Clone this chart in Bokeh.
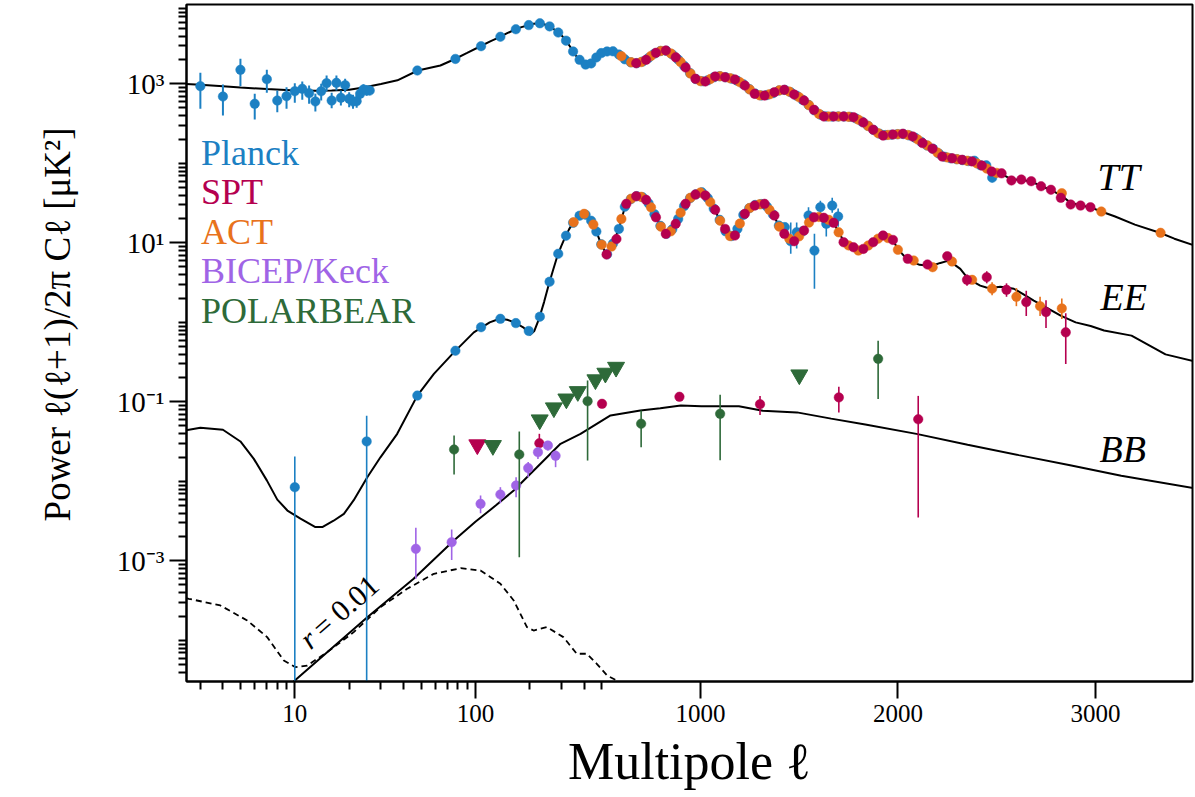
import numpy as np
from bokeh.plotting import figure
from bokeh.models import Range1d, FixedTicker, CustomJSTickFormatter, Label
from bokeh.embed import file_html
from bokeh.resources import INLINE

# ---------------- data ----------------
tt_curve = [(2.5,1000),(3,975),(4,935),(5,900),(7,860),(9.5,830),(13,822),(16,826),(20,845),(24,900),
            (30,1000),(37,1110),(48,1474),(64,1704),(76,2027),(90,2450),(106,2954),(120,3400),(136,3868),
            (150,4350),(166,4832),(180,5180),(196,5471),(210,5700),(226,5800),(240,5620),(256,5318),
            (270,4950),(283,4562),(300,4080),(314,3619),(330,3080),(345,2630),(360,2270),(376,2027),
            (390,1850),(404,1754),(420,1750),(434,1790),(450,1950),(469,2167),(485,2330),(500,2460),
            (536,2577),(561,2560),(599,2230),(625,1980),(646,1875),(675,1821),(700,1880),(725,2009),
            (750,2250),(776,2460),(800,2600),(826,2630),(850,2420),(874,2167),(900,1880),(924,1622),
            (950,1350),(975,1159),(1000,1085),(1026,1072),(1050,1150),(1076,1239),(1100,1250),(1127,1214),
            (1150,1180),(1177,1136),(1200,1050),(1228,955),(1250,850),(1279,751),(1300,718),(1329,714),
            (1350,740),(1380,786),(1400,830),(1425,845),(1450,800),(1473,736),(1500,680),(1523,618),
            (1550,540),(1574,472),(1600,420),(1625,392),(1650,388),(1675,389),(1726,389),(1773,381),
            (1800,355),(1824,327),(1850,295),(1875,265),(1900,240),(1925,226),(1950,228),(1976,231),
            (2027,234),(2077,218),(2100,200),(2128,180),(2150,168),(2178,153),(2200,137),(2229,122),
            (2276,115),(2327,110),(2377,105),(2426,94),(2450,86),(2477,79),(2524,74),(2575,63),(2626,62),
            (2677,59),(2727,51.6),(2778,46),(2829,39),(2875,32),(2926,29.5),(2976,28),(3026,25),
            (3100,21.5),(3200,17),(3326,13.4),(3400,11.3),(3500,9.3)]

ee_curve = [(2.5,0.044),(3,0.0472),(4,0.0446),(5,0.0318),(5.93,0.0192),(7,0.0103),(8,0.0059),(9.1,0.0043),
            (10.75,0.0034),(13,0.00266),(14.2,0.00266),(16.4,0.0032),(18.7,0.0039),(21.2,0.0058),
            (25.2,0.0113),(29.8,0.0201),(36.9,0.0397),(47.7,0.12),(58.9,0.2256),(76,0.42),(98,0.75),
            (120,1.0),(136,1.11),(150,1.08),(166,0.99),(185,0.86),(201,0.70),(212,0.78),(225,1.11),
            (240,1.8),(254,2.91),(268,4.4),(283,6.6),(298,9.0),(314,11.8),(330,14.8),(347,17.9),
            (370,21.5),(396,23.2),(420,21.5),(445,17.7),(470,13.5),(492,10.2),(524,7.15),(553,9.27),
            (587,15.0),(620,29.5),(650,36),(675,38.7),(700,38),(725,34.8),(750,28),(776,21.0),(800,16),
            (827,13.0),(850,14),(874,17.4),(900,24),(924,31),(950,37),(975,40.6),(1009,43.4),(1030,39),
            (1049,32.5),(1075,25),(1098,19.5),(1120,15),(1144,12.4),(1160,12.2),(1177,13.0),(1200,17.5),
            (1220,23.2),(1245,27),(1270,29.5),(1295,30.5),(1321,31),(1345,27),(1371,22.1),(1400,16),
            (1422,13),(1447,11.3),(1473,10.5),(1498,12),(1523,14.3),(1548,18),(1574,21),(1600,21.2),
            (1625,20.7),(1650,19.5),(1675,17.9),(1700,13.6),(1726,10.6),(1752,9.3),(1777,8.83),(1802,8.3),
            (1820,8.6),(1844,9.27),(1878,10.2),(1910,11.5),(1928,11.8),(1960,11.2),(1976,10.5),(1999,8.6),
            (2023,7.2),(2047,6.31),(2080,5.7),(2110,5.3),(2148,5.2),(2176,5.2),(2215,5.6),(2248,5.9),
            (2274,5.6),(2316,4.72),(2346,3.8),(2376,3.3),(2417,2.9),(2448,2.75),(2477,2.72),(2519,2.8),
            (2549,2.75),(2587,2.65),(2630,2.3),(2688,1.88),(2750,1.55),(2824,1.22),(2900,1.0),(2976,0.9),
            (3044,0.79),(3183,0.682),(3355,0.396),(3500,0.325)]

bb_curve = [(8,2.0e-5),(10,3.13e-5),(25.2,1.96e-4),(45.5,5.95e-4),(76,1.81e-3),(100,3.1e-3),(130,5.0e-3),
            (163,7.69e-3),(220,0.0152),(296,0.0297),(382,0.0397),(545,0.0675),(696,0.078),(797,0.0831),
            (901,0.0898),(1005,0.0881),(1195,0.0881),(1316,0.0775),(1489,0.0738),(1662,0.0616),
            (1835,0.0521),(2094,0.0396),(2353,0.0289),(2612,0.0214),(2872,0.016),(3131,0.0118),(3500,0.0082)]

bb_r001_curve = [(2.5,3.4e-4),(2.59,3.34e-4),(3.87,2.75e-4),(5.45,1.78e-4),(7.03,1.1e-4),(8.69,5.59e-5),
                 (10.09,4.6e-5),(11.72,4.83e-5),(15.1,7.11e-5),(21.2,1.27e-4),(29.8,2.62e-4),(41.9,4.46e-4),
                 (58.9,6.89e-4),(82.9,8.1e-4),(106.7,7.57e-4),(137.6,5.15e-4),(163,3.18e-4),(193,1.47e-4),
                 (210,1.33e-4),(249,1.47e-4),(307,1.1e-4),(364,6.79e-5),(414,6.79e-5),(470,5.08e-5),
                 (528,3.61e-5),(578,3.12e-5),(650,2.2e-5)]

# Planck TT, low ell
pl_tt_lo_l = [3,4,5,6,7,8,9,10,11,12,13,14,15,16,17,18,19,20,21,22,23,24,25,26]
pl_tt_lo_v = [936,694,1504,562,1146,618,700,809,868,764,601,809,1020,618,1032,669,963,650,601,606,751,850,826,826]
pl_tt_lo_dn = [486,400,936,357,773,441,486,578,631,562,450,618,809,495,826,535,786,509,486,500,640,730,710,720]
pl_tt_lo_up = [1379,983,2069,751,1504,826,909,1020,1072,955,751,1003,1276,773,1276,826,1159,786,729,725,880,990,960,950]

# Planck TT, binned
pl_tt_l = [47.7,77.5,107.5,137.5,167.5,197.5,227.5,257.5,287.5,317.5,347.5,377.5,407.5,437.5,467.5,497.5,
           527.5,557.5,587.5,617.5,647.5,677.5,707.5,737.5,767.5,797.5,827.5,857.5,887.5,917.5,947.5,977.5,
           1007.5,1037.5,1067.5,1097.5,1127.5,1157.5,1187.5,1217.5,1247.5,1277.5,1307.5,1337.5,1367.5,
           1397.5,1427.5,1457.5,1487.5,1517.5,1547.5,1577.5,1607.5,1637.5,1667.5,1697.5,1727.5,1757.5,
           1787.5,1817.5,1847.5,1877.5,1907.5,1937.5,1967.5,1997.5,2027.5,2057.5,2087.5,2117.5,2147.5,
           2177.5,2207.5,2237.5,2267.5,2297.5,2327.5,2357.5,2387.5,2417.5,2447.5,2477.5]
pl_tt_v = [1474,2060,2980,3920,4870,5490,5790,5290,4430,3500,2560,2010,1750,1810,2150,2440,2560,2570,2340,2040,
           1870,1825,1910,2120,2400,2590,2610,2350,2020,1690,1370,1150,1080,1110,1210,1250,1214,1165,1095,990,
           860,755,716,725,765,825,840,785,710,630,545,465,410,390,388,389,389,385,368,335,
           298,263,236,227,230,233,234,225,210,187,168,153,133,121,116,113,110,107,108,95,94.5,66]
pl_tt_bar_l = [2387.5,2417.5,2447.5,2477.5]
pl_tt_bar_dn = [98,86,85,58]
pl_tt_bar_up = [118,104,104,76]

# SPT TT
spt_tt_l = [675,725,775,825,875,925,975,1025,1075,1125,1175,1225,1275,1325,1375,1425,1475,1525,1575,1625,
            1675,1725,1775,1825,1875,1925,1975,2025,2075,2125,2175,2225,2275,2325,2375,2425,2475,2525,2575,
            2625,2675,2725,2775,2825,2875,2925,2975]
spt_tt_v = [1821,2009,2460,2630,2160,1610,1160,1072,1239,1214,1136,955,751,714,786,843,736,618,472,389,
            389,389,381,327,265,224,231,236,218,180,153,122,116,111,106,94,79,75,61,62.7,
            59.7,51.6,46.6,36.9,30.4,29.5,28.1]

# ACT TT
act_tt_l = [600,650,700,750,800,850,900,950,1000,1050,1100,1150,1200,1250,1300,1350,1400,1450,1500,1550,
            1600,1650,1700,1750,1800,1850,1900,1950,2000,2050,2100,2150,2200,2250,2300,2350,2400,2450,2500,
            2830,3030,3330]
act_tt_v = [2230,1870,1880,2250,2600,2420,1880,1350,1085,1150,1250,1180,1050,850,718,740,830,800,680,540,
            420,388,389,386,355,295,240,228,233,228,200,168,137,119,113,108,100,86,76,42.2,24.8,13.4]

# Planck EE
pl_ee_lo_l = [10,25]
pl_ee_lo_v = [8.45e-3,0.0318]
pl_ee_lo_dn = [1e-7,1e-7]
pl_ee_lo_up = [0.0206,0.0668]
pl_ee_l = [47.7,77.5,107.5,137.5,167.5,197.5,227.5,257.5,287.5,317.5,347.5,377.5,407.5,437.5,467.5,497.5,
           527.5,557.5,587.5,617.5,647.5,677.5,707.5,737.5,767.5,797.5,827.5,857.5,887.5,917.5,947.5,977.5,
           1007.5,1037.5,1067.5,1097.5,1127.5,1157.5,1187.5,1217.5,1247.5,1277.5,1307.5,1337.5,1367.5,
           1397.5,1427.5,1457.5,1487.5,1517.5,1547.5,1577.5,1607.5,1637.5,1667.5,1697.5]
pl_ee_v = [0.12,0.44,0.87,1.11,0.98,0.78,1.18,3.25,7.3,12.3,17.9,22,22.6,19,13.9,9.6,7.2,9.8,15,28.5,
           35.5,38.7,37.5,31.5,23,16.4,13,14.8,20,29,36.5,40.8,43.3,36.5,27,19.5,14,12.2,15,22.5,
           27.3,30,30.8,28.5,22.8,16.5,15.8,10.5,13.6,14,22.1,8.0,28.1,17.4,29.5,21.5]
pl_ee_bar_l = [1457.5,1487.5,1547.5,1577.5,1607.5,1637.5,1667.5,1697.5]
pl_ee_bar_dn = [7.3,8.5,17,2.65,22,12,24,16]
pl_ee_bar_up = [18,18,28,13,34,22,37,27]

# SPT EE
spt_ee_l = [525,575,625,675,725,775,825,875,925,975,1025,1075,1125,1175,1225,1275,1325,1375,1425,1475,
            1525,1575,1625,1675,1725,1775,1825,1875,1925,1975,2050,2150,2250,2350,2450,2550,2650,2750,2850]
spt_ee_v = [7.15,11.2,31,38.7,34.8,21,13,17.4,31,40.6,39.5,26.1,15,12.4,23.2,29.5,31,22.1,13,10.5,
            14.3,21,20.7,17.9,10.2,8.83,8.4,10.2,12.4,10.9,6.3,5.35,6.8,3.43,3.7,2.57,1.8,1.35,0.75]
spt_ee_bar_l = [2350,2450,2550,2650,2750,2850]
spt_ee_bar_dn = [2.9,3.1,2.1,1.2,0.85,0.3]
spt_ee_bar_up = [4.0,4.4,3.1,2.5,1.9,1.3]

# ACT EE
act_ee_l = [350,400,450,500,550,600,650,700,750,800,850,900,950,1000,1050,1100,1150,1200,1250,1300,
            1350,1400,1450,1500,1550,1600,1650,1700,1750,1800,1850,1900,1950,2000,
            2080,2176,2274,2376,2477,2600,2720,2830]
act_ee_v = [18.2,23.2,17,9.5,9,20,36,38,28,16,14,24,37,43,32.5,19,12.2,17.5,27.5,30.6,
            26,16,11.3,12.1,18,21.2,19.5,13.6,9.3,8.02,9.27,11.3,11.5,8.19,
            6.0,4.95,5.83,3.43,2.65,2.1,1.6,1.5]
act_ee_bar_l = [2477,2600,2720,2830]
act_ee_bar_dn = [2.2,1.6,1.2,1.1]
act_ee_bar_up = [3.2,2.7,2.1,2.0]

# BB: BICEP/Keck
bk_l = [46.8,73.9,106.8,137.5,168,196,222,252,278]
bk_v = [1.42e-3,1.72e-3,5.22e-3,6.84e-3,8.89e-3,0.0147,0.0233,0.0283,0.021]
bk_dn = [5.95e-4,1.03e-3,3.98e-3,5.32e-3,6.32e-3,0.0113,0.0192,0.0245,0.0151]
bk_up = [2.61e-3,2.48e-3,6.65e-3,8.46e-3,0.0113,0.0175,0.0269,0.0318,0.0245]
# BB: SPT
spt_bb_l = [226,502,894,1302,1701,2103]
spt_bb_v = [0.0302,0.0946,0.116,0.0935,0.114,0.0605]
spt_bb_dn = [0.0269,0.088,0.106,0.0682,0.0738,3.52e-3]
spt_bb_up = [0.0397,0.102,0.127,0.119,0.155,0.119]
spt_bb_ul_l = [102.5]
spt_bb_ul_v = [0.0289]
# BB: POLARBEAR
pb_l = [76.2,175,418,700,1100,1900]
pb_v = [0.0252,0.0218,0.102,0.0531,0.0708,0.348]
pb_dn = [0.0122,1.11e-3,0.0183,0.0269,0.0185,0.109]
pb_up = [0.0378,0.0424,0.186,0.078,0.123,0.589]
pb_ul_l = [125,227,272,319,369,462,519,573,1501]
pb_ul_v = [0.0283,0.0595,0.0843,0.109,0.135,0.19,0.23,0.273,0.219]

legend_names = ["Planck", "SPT", "ACT", "BICEP/Keck", "POLARBEAR"]
x_tick_values = [10, 100, 1000, 2000, 3000]
x_tick_labels = ["10", "100", "1000", "2000", "3000"]
y_tick_values = [1e-3, 1e-1, 1e1, 1e3]
y_tick_labels = ["10\u207b\u00b3", "10\u207b\u00b9", "10\u00b9", "10\u00b3"]

# ---------------- styling ----------------
C_PLANCK = "#1c80c3"
C_SPT = "#b5004f"
C_ACT = "#e8721c"
C_BK = "#a064e6"
C_PB = "#2e6a39"
SERIF = "Liberation Serif"

# hybrid axis: log below ell=500, linear above (same as the reference)
LBREAK = 500.0
KLIN = 0.1975 / 180.6

def fx(l):
    l = np.asarray(l, dtype=float)
    return np.where(l <= LBREAK, np.log10(np.maximum(l, 1e-9)), np.log10(LBREAK) + (l - LBREAK) * KLIN)

# pixel helpers for annotation placement
def px_x(px):
    return 1 + (px - 294.3) / 180.6

def px_y(py):
    return 10 ** (3 - (py - 83.4) / 79.5)

FL, FT, FW, FH = 186, 4, 1006, 677
p = figure(frame_width=FW, frame_height=FH, y_axis_type="log",
           x_range=Range1d(px_x(FL), px_x(FL + FW)), y_range=Range1d(px_y(FT + FH), px_y(FT)),
           output_backend="svg", toolbar_location=None,
           min_border_left=FL, min_border_right=2, min_border_top=FT, min_border_bottom=110)
p.xgrid.visible = False
p.ygrid.visible = False
p.outline_line_color = "black"
p.outline_line_width = 2
p.background_fill_color = "white"
p.border_fill_color = "white"

# theory curves
for curve, dash in [(tt_curve, "solid"), (ee_curve, "solid"), (bb_curve, "solid"), (bb_r001_curve, "6 4")]:
    cl = [c[0] for c in curve]
    cv = [c[1] for c in curve]
    p.line(fx(cl), cv, line_color="black", line_width=2 if dash == "solid" else 1.8, line_dash=dash)

def bars(l, dn, up, color, w=1.6):
    p.segment(x0=fx(l), y0=dn, x1=fx(l), y1=up, line_color=color, line_width=w)

def dots(l, v, color, size=9.5):
    p.scatter(fx(l), v, size=size, marker="circle", fill_color=color, line_color=color, line_width=0.5)

# Planck
bars(pl_tt_lo_l, pl_tt_lo_dn, pl_tt_lo_up, C_PLANCK, 2)
dots(pl_tt_lo_l, pl_tt_lo_v, C_PLANCK)
bars(pl_tt_bar_l, pl_tt_bar_dn, pl_tt_bar_up, C_PLANCK)
dots(pl_tt_l, pl_tt_v, C_PLANCK)
bars(pl_ee_lo_l, pl_ee_lo_dn, pl_ee_lo_up, C_PLANCK)
dots(pl_ee_lo_l, pl_ee_lo_v, C_PLANCK)
bars(pl_ee_bar_l, pl_ee_bar_dn, pl_ee_bar_up, C_PLANCK)
dots(pl_ee_l, pl_ee_v, C_PLANCK)
# ACT
dots(act_tt_l, act_tt_v, C_ACT)
bars(act_ee_bar_l, act_ee_bar_dn, act_ee_bar_up, C_ACT)
dots(act_ee_l, act_ee_v, C_ACT)
# SPT
dots(spt_tt_l, spt_tt_v, C_SPT)
bars(spt_ee_bar_l, spt_ee_bar_dn, spt_ee_bar_up, C_SPT)
dots(spt_ee_l, spt_ee_v, C_SPT)
bars(spt_bb_l, spt_bb_dn, spt_bb_up, C_SPT)
dots(spt_bb_l, spt_bb_v, C_SPT)
p.scatter(fx(spt_bb_ul_l), spt_bb_ul_v, size=17, marker="inverted_triangle", fill_color=C_SPT, line_color=C_SPT)
# BICEP/Keck
bars(bk_l, bk_dn, bk_up, C_BK)
dots(bk_l, bk_v, C_BK)
# POLARBEAR
bars(pb_l, pb_dn, pb_up, C_PB)
dots(pb_l, pb_v, C_PB)
p.scatter(fx(pb_ul_l), pb_ul_v, size=17, marker="inverted_triangle", fill_color=C_PB, line_color=C_PB)

# ---------------- axes ----------------
xt = [float(v) for v in fx(x_tick_values)]
minor_l = [3, 4, 5, 6, 7, 8, 9, 20, 30, 40, 50, 60, 70, 80, 90, 200, 300, 400, 500]
p.xaxis.ticker = FixedTicker(ticks=xt, minor_ticks=[float(v) for v in fx(minor_l)])
p.xaxis.formatter = CustomJSTickFormatter(args=dict(keys=xt, labels=x_tick_labels), code="""
    for (let i = 0; i < keys.length; i++) { if (Math.abs(tick - keys[i]) < 1e-6) return labels[i]; }
    return '';
""")
ymin = []
for k in range(-5, 5):
    for m in range(1, 10):
        v = m * 10.0 ** k
        if not (m == 1 and k in (-3, -1, 1, 3)):
            ymin.append(v)
p.yaxis.ticker = FixedTicker(ticks=y_tick_values, minor_ticks=ymin)
p.yaxis.formatter = CustomJSTickFormatter(args=dict(keys=y_tick_values, labels=y_tick_labels), code="""
    for (let i = 0; i < keys.length; i++) { if (Math.abs(Math.log10(tick) - Math.log10(keys[i])) < 1e-6) return labels[i]; }
    return '';
""")
for ax in (p.xaxis[0], p.yaxis[0]):
    ax.axis_line_width = 2
    ax.axis_line_color = "black"
    ax.major_tick_line_width = 2
    ax.minor_tick_line_width = 2
    ax.major_tick_out = 17
    ax.major_tick_in = 0
    ax.minor_tick_out = 8
    ax.minor_tick_in = 0
    ax.major_label_text_font = SERIF
    ax.major_label_text_color = "black"
    ax.major_label_standoff = 6
p.xaxis.major_label_text_font_size = "25px"
p.yaxis.major_label_text_font_size = "29px"
p.yaxis.major_label_standoff = 5

p.xaxis.axis_label = "Multipole \u2113"
p.xaxis.axis_label_text_font = SERIF
p.xaxis.axis_label_text_font_size = "52px"
p.xaxis.axis_label_text_font_style = "normal"
p.xaxis.axis_label_text_color = "black"
p.xaxis.axis_label_standoff = 8

p.yaxis.axis_label = "\u00a0" * 5 + "Power  \u2113(\u2113+1)/2\u03c0 C\u2113 [\u03bcK\u00b2]"
p.yaxis.axis_label_text_font = SERIF
p.yaxis.axis_label_text_font_size = "37px"
p.yaxis.axis_label_text_font_style = "normal"
p.yaxis.axis_label_text_color = "black"
p.yaxis.axis_label_standoff = 36

# ---------------- annotations ----------------
def lab(text, px, py, size, color="black", style="normal", angle=0.0, align="left", baseline="alphabetic"):
    p.add_layout(Label(x=px_x(px), y=px_y(py), text=text, text_font=SERIF, text_font_size=f"{size}px",
                       text_color=color, text_font_style=style, angle=angle, text_align=align,
                       text_baseline=baseline))

for name, col, by in zip(legend_names, [C_PLANCK, C_SPT, C_ACT, C_BK, C_PB], [152, 191.5, 231, 270.5, 310]):
    lab(name, 200.5, by, 36, col)

lab("TT", 1097, 176, 38, style="italic")
lab("EE", 1100, 296, 38, style="italic")
lab("BB", 1099, 448, 38, style="italic")

ang = float(np.deg2rad(41.3))
lab("r", 303, 642, 30, style="italic", angle=ang)
lab("= 0.01", 303 + 0.752 * 17, 642 - 0.66 * 17, 30, angle=ang)

open("out.html", "w").write(file_html(p, INLINE))
